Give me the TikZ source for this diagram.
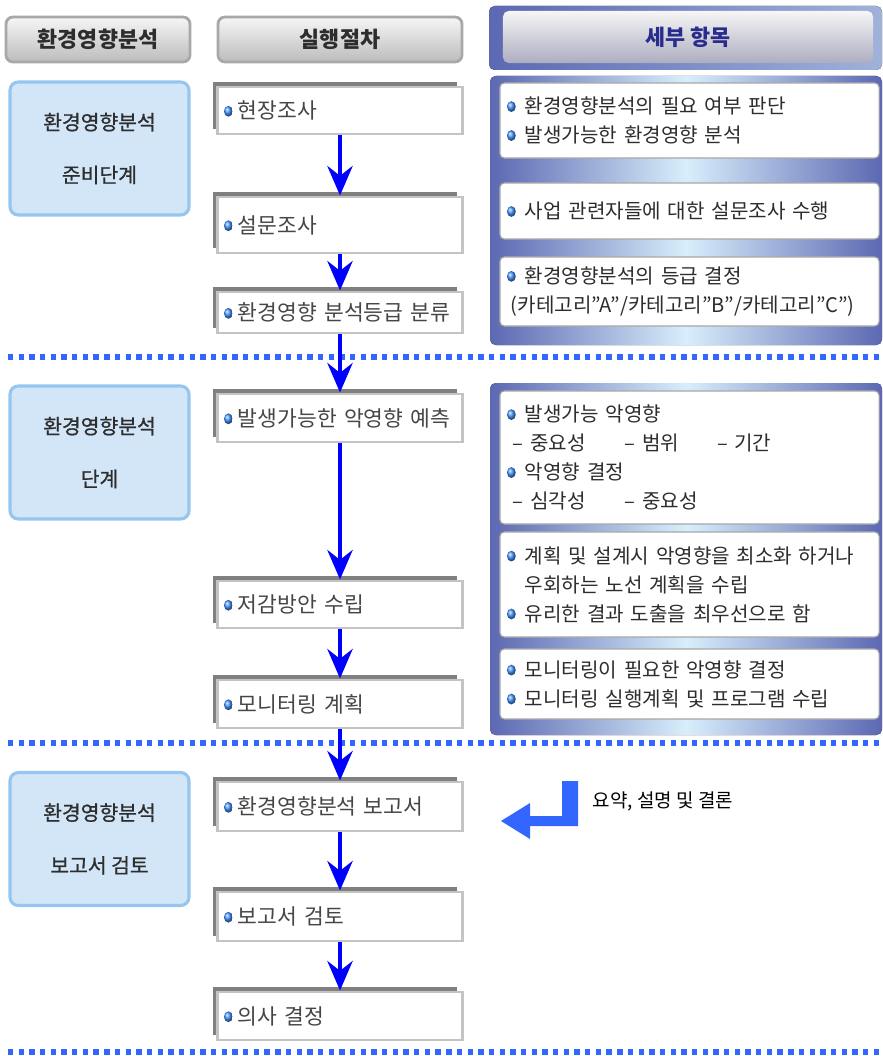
\documentclass[tikz,border=0pt]{standalone}
\usepackage{fontspec}
\setmainfont{Noto Sans CJK KR}
\newfontfamily\phasefont{Noto Sans CJK KR}[FakeBold=0.8]
\usepackage{xcolor}
\usepackage{tikz}
\usetikzlibrary{arrows.meta,shadows}

\definecolor{flowblue}{RGB}{0,0,255}
\definecolor{dotblue}{RGB}{51,102,255}
\definecolor{pdark}{RGB}{92,104,178}
\definecolor{plight}{RGB}{216,238,251}
\definecolor{phfill}{RGB}{210,230,247}
\definecolor{phedge}{RGB}{150,198,240}
\definecolor{hdtop}{RGB}{246,246,246}
\definecolor{hdbot}{RGB}{188,188,188}
\definecolor{hdedge}{RGB}{168,168,168}
\definecolor{boxedge}{RGB}{196,196,196}
\definecolor{shadowgray}{RGB}{128,128,128}
\definecolor{txtgray}{RGB}{70,70,70}
\definecolor{txtdark}{RGB}{45,45,45}
\definecolor{navy}{RGB}{40,44,140}
\definecolor{bulblue}{RGB}{70,150,255}

% bullets for the text lines
\newcommand{\bul}{\makebox[0.45cm][l]{\tikz[baseline={(0pt,-5pt)}]\shade[ball color=bulblue] (0,0) ellipse [x radius=0.11cm, y radius=0.135cm];}}
\newcommand{\mbul}{\makebox[0.35cm][l]{\tikz[baseline={(0pt,-5.2pt)}]\shade[ball color=bulblue] (0,0) ellipse [x radius=0.11cm, y radius=0.135cm];}}

\begin{document}
\begin{tikzpicture}[
    x=0.025cm,
    y=-0.025cm,
    hdbox/.style={
        draw=hdedge,
        line width=2pt,
        rounded corners=5pt,
        top color=hdtop,
        bottom color=hdbot,
        minimum height=1.125cm,
        font=\fontsize{15.5}{18}\selectfont\bfseries,
        text=txtdark
    },
    phase/.style={
        draw=phedge,
        line width=2.2pt,
        rounded corners=6pt,
        fill=phfill,
        minimum width=4.475cm,
        minimum height=3.325cm,
        align=center,
        font=\phasefont\fontsize{14.5}{37.5}\selectfont,
        text=txtdark
    },
    procbox/.style={
        draw=boxedge,
        line width=2.1pt,
        fill=white,
        minimum width=6.1cm,
        text width=5.8cm,
        inner xsep=0.15cm,
        align=left,
        general shadow={
            fill=shadowgray,
            shadow xshift=-3.8pt,
            shadow yshift=3.8pt
        },
        font=\fontsize{15.3}{20}\selectfont,
        text=txtgray
    },
    detbox/.style={
        draw=gray!70,
        line width=0.8pt,
        rounded corners=3pt,
        fill=white,
        minimum width=9.475cm,
        text width=9.125cm,
        inner xsep=0.175cm,
        align=left,
        font=\fontsize{14.3}{20.6}\selectfont,
        text=txtdark
    },
    panel/.style={
        left color=pdark,
        right color=pdark,
        middle color=plight,
        rounded corners=4pt
    },
    flow/.style={
        draw=flowblue,
        line width=2.8pt,
        -{Stealth[length=21pt, width=18pt, inset=7pt]}
    },
    sepline/.style={
        draw=dotblue,
        line width=4.2pt,
        dash pattern=on 3.8pt off 3.8pt
    }
]

\useasboundingbox (0,0) rectangle (882,1056);

% Column headers
\node[
    hdbox,
    minimum width=4.6cm
] (hdphase) at (98,39.5) {
    환경영향분석
};

\node[
    hdbox,
    minimum width=6.1cm
] (hdproc) at (340,39.5) {
    실행절차
};

\fill[
    left color=pdark,
    right color=pdark!45!plight,
    rounded corners=4pt
] (489,6) rectangle (882,70);

\node[
    rounded corners=4pt,
    top color=hdtop,
    bottom color=black!4!blue!8!hdbot,
    minimum width=9.25cm,
    minimum height=1.3cm,
    font=\fontsize{15.5}{18}\selectfont\bfseries,
    text=navy
] (hddetail) at (688,37) {
    세부 항목
};


% Right panels
\fill[panel] (490,76) rectangle (882,345);
\fill[panel] (490,383) rectangle (882,735);


% Stage separators
\draw[sepline] (8,357) -- (882,357);
\draw[sepline] (8,743) -- (882,743);
\draw[sepline] (8,1052) -- (882,1052);


% Stage 1: preparation
\node[phase] (ph1) at (99.5,148.5) {
    환경영향분석\\준비단계
};

\node[
    procbox,
    minimum height=1.175cm
] (p1) at (340,110.5) {
    \mbul 현장조사
};

\node[
    procbox,
    minimum height=1.4cm
] (p2) at (340,225) {
    \mbul 설문조사
};

\node[
    procbox,
    minimum height=1.025cm
] (p3) at (340,312.5) {
    \mbul 환경영향 분석등급 분류
};

\node[
    detbox,
    minimum height=1.875cm
] (d1) at (689.5,120.5) {
    \bul 환경영향분석의 필요 여부 판단\\
    \bul 발생가능한 환경영향 분석
};

\node[
    detbox,
    minimum height=1.4cm
] (d2) at (689.5,211) {
    \bul 사업 관련자들에 대한 설문조사 수행
};

\node[
    detbox,
    minimum height=1.725cm
] (d3) at (689.5,291.5) {
    \bul 환경영향분석의 등급 결정\\
    \hspace*{0.1cm}(카테고리”A”/카테고리”B”/카테고리”C”)
};


% Stage 2: analysis
\node[phase] (ph2) at (99.5,452.5) {
    환경영향분석\\단계
};

\node[
    procbox,
    minimum height=1.2cm
] (p4) at (340,418) {
    \mbul 발생가능한 악영향 예측
};

\node[
    procbox,
    minimum height=1.175cm
] (p5) at (340,604.5) {
    \mbul 저감방안 수립
};

\node[
    procbox,
    minimum height=1.2cm
] (p6) at (340,704) {
    \mbul 모니터링 계획
};

\node[
    detbox,
    minimum height=3.325cm
] (d4) at (689.5,457.5) {
    \bul 발생가능 악영향\\
    \hspace*{0.15cm}\makebox[2.8cm][l]{– 중요성}\makebox[2.3cm][l]{– 범위}– 기간\\
    \bul 악영향 결정\\
    \hspace*{0.15cm}\makebox[2.8cm][l]{– 심각성}– 중요성
};

\node[
    detbox,
    minimum height=2.625cm
] (d5) at (689.5,584.5) {
    \bul 계획 및 설계시 악영향을 최소화 하거나\\
    \hspace*{0.45cm}우회하는 노선 계획을 수립\\
    \bul 유리한 결과 도출을 최우선으로 함
};

\node[
    detbox,
    minimum height=1.75cm
] (d6) at (689.5,684) {
    \bul 모니터링이 필요한 악영향 결정\\
    \bul 모니터링 실행계획 및 프로그램 수립
};


% Stage 3: report review
\node[phase] (ph3) at (99.5,839) {
    환경영향분석\\보고서 검토
};

\node[
    procbox,
    minimum height=1.225cm
] (p7) at (340,806.5) {
    \mbul 환경영향분석 보고서
};

\node[
    procbox,
    minimum height=1.225cm
] (p8) at (340,916.5) {
    \mbul 보고서 검토
};

\node[
    procbox,
    minimum height=1.2cm
] (p9) at (340,1016) {
    \mbul 의사 결정
};

\node[
    anchor=west,
    font=\fontsize{13.5}{16}\selectfont,
    text=black
] (summary) at (588,801) {
    요약, 설명 및 결론
};

% return arrow into the report
\fill[dotblue]
    (562,781) -- (578,781) -- (578,826) -- (530,826) -- (530,839)
    -- (501,821) -- (530,803) -- (530,816) -- (562,816) -- cycle;


% Flow arrows
\draw[flow] (p1) -- (p2);
\draw[flow] (p2) -- (p3);
\draw[flow] (p3) -- (p4);
\draw[flow] (p4) -- (p5);
\draw[flow] (p5) -- (p6);
\draw[flow] (p6) -- (p7);
\draw[flow] (p7) -- (p8);
\draw[flow] (p8) -- (p9);

\end{tikzpicture}
\end{document}
